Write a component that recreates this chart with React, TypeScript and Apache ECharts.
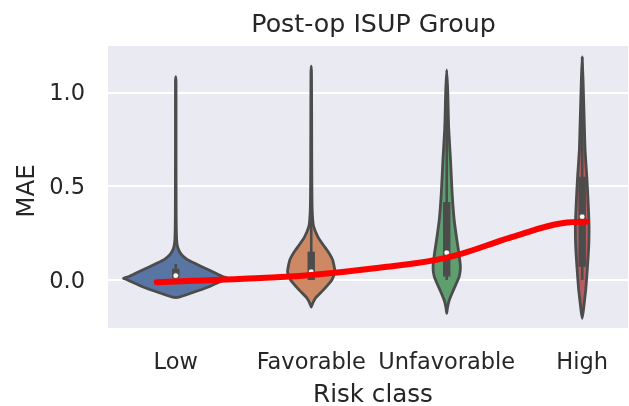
import React, { useEffect, useRef } from 'react';
import * as echarts from 'echarts';

const categories = ['Low', 'Favorable', 'Unfavorable', 'High'];
const categoryPositions = [0, 1, 2, 3];
const violinColors = ['#5975a4', '#cc8963', '#5f9e6e', '#b55d60'];
const yTicks = [0, 0.5, 1.0];

// violin outlines: [value, half-width as fraction of one category band]
const lowProfile = [
  [-0.094, 0.0], [-0.09, 0.03], [-0.071, 0.11], [-0.036, 0.245], [0.0, 0.355], [0.009, 0.385],
  [0.02, 0.34], [0.053, 0.245], [0.089, 0.14], [0.11, 0.083], [0.133, 0.045], [0.155, 0.025],
  [0.178, 0.013], [0.22, 0.006], [0.35, 0.003], [0.7, 0.002], [1.05, 0.002], [1.083, 0.0],
];
const favorableProfile = [
  [-0.145, 0.0], [-0.124, 0.011], [-0.098, 0.03], [-0.053, 0.09], [0.0, 0.152], [0.044, 0.175],
  [0.107, 0.158], [0.15, 0.125], [0.19, 0.085], [0.231, 0.048], [0.284, 0.018], [0.32, 0.011],
  [0.4, 0.006], [0.6, 0.004], [0.9, 0.003], [1.1, 0.002], [1.14, 0.0],
];
const unfavorableProfile = [
  [-0.178, 0.0], [-0.145, 0.006], [-0.107, 0.019], [-0.053, 0.05], [0.018, 0.092], [0.071, 0.101],
  [0.142, 0.09], [0.213, 0.075], [0.32, 0.055], [0.463, 0.04], [0.64, 0.028], [0.817, 0.014],
  [0.995, 0.008], [1.119, 0.0],
];
const highProfile = [
  [-0.204, 0.0], [-0.16, 0.009], [-0.053, 0.026], [0.071, 0.039], [0.195, 0.049], [0.302, 0.05],
  [0.426, 0.043], [0.55, 0.034], [0.693, 0.021], [0.87, 0.014], [1.048, 0.007], [1.19, 0.0],
];
const profiles = [lowProfile, favorableProfile, unfavorableProfile, highProfile];

const q1 = [0.009, 0.0, 0.018, 0.07];
const q3 = [0.06, 0.151, 0.415, 0.55];
const medians = [0.023, 0.044, 0.145, 0.337];
const whiskerLow = [0.0, 0.0, 0.0, 0.0];
const whiskerHigh = [0.085, 0.36, 1.0, 1.19];

const trendX = [-0.14, 0.5, 1, 1.5, 2, 2.5, 2.85, 3.03];
const trendY = [-0.012, 0.006, 0.027, 0.065, 0.119, 0.233, 0.302, 0.31];

const GRAY = '#4c4c4c';
const TEXT = '#262626';
const FONT = 'DejaVu Sans';

export default function App() {
  const ref = useRef<HTMLDivElement>(null);
  useEffect(() => {
    const chart = echarts.init(ref.current!, null, { renderer: 'svg' });
    const option: any = {
      animation: false,
      textStyle: { fontFamily: FONT, color: TEXT },
      title: {
        text: 'Post-op ISUP Group',
        left: 373.5,
        top: 11,
        padding: 0,
        textAlign: 'center',
        textStyle: { fontFamily: FONT, fontSize: 25.3, fontWeight: 'normal', color: TEXT },
      },
      grid: {
        left: 108, top: 46, right: 1, bottom: 78,
        containLabel: false, outerBoundsMode: 'none',
        show: true, backgroundColor: '#eaeaf2', borderWidth: 0,
      },
      xAxis: {
        type: 'value', min: -0.5, max: 3.338,
        axisLine: { show: false }, axisTick: { show: false }, splitLine: { show: false },
        axisLabel: {
          customValues: categoryPositions, margin: 21, fontSize: 22.5, color: TEXT, fontFamily: FONT,
          formatter: (v: number) => categories[Math.round(v)] ?? '',
        },
        name: 'Risk class', nameLocation: 'middle', nameGap: 54,
        nameTextStyle: {
          fontSize: 24.6, lineHeight: 22, color: TEXT, fontFamily: FONT, padding: [0, 0, 0, 10],
        },
      },
      yAxis: {
        type: 'value', min: -0.256, max: 1.247,
        axisLine: { show: false }, axisTick: { show: false }, splitLine: { show: false },
        axisLabel: {
          customValues: yTicks, margin: 23, fontSize: 22.5, color: TEXT, fontFamily: FONT,
          formatter: (v: number) => v.toFixed(1),
        },
        name: 'MAE', nameLocation: 'middle', nameRotate: 90, nameGap: 68,
        nameTextStyle: { fontSize: 24.6, color: TEXT, fontFamily: FONT, padding: [0, 8, 0, 0] },
      },
      series: [
        {
          type: 'custom',
          z: 10,
          silent: true,
          clip: true,
          data: categoryPositions.map((p, i) => [p, medians[i]]),
          encode: { x: 0, y: 1 },
          renderItem: (params: any, api: any) => {
            const i = params.dataIndex;
            const pos = categoryPositions[i];
            const prof = profiles[i];
            const bw = api.size([1, 0])[0];
            const cx = api.coord([pos, 0])[0];
            const right = prof.map(([y, w]) => [cx + w * bw, api.coord([pos, y])[1]]);
            const left = prof
              .slice(1, prof.length - 1)
              .reverse()
              .map(([y, w]) => [cx - w * bw, api.coord([pos, y])[1]]);
            const yq1 = api.coord([pos, q1[i]])[1];
            const yq3 = api.coord([pos, q3[i]])[1];
            return {
              type: 'group',
              children: [
                {
                  type: 'polygon',
                  shape: { points: right.concat(left), smooth: 0.15 },
                  style: { fill: violinColors[i], stroke: GRAY, lineWidth: 2.8, lineJoin: 'round' },
                },
                {
                  type: 'line',
                  shape: {
                    x1: cx, y1: api.coord([pos, whiskerLow[i]])[1],
                    x2: cx, y2: api.coord([pos, whiskerHigh[i]])[1],
                  },
                  style: { stroke: GRAY, lineWidth: 2.6 },
                },
                {
                  type: 'rect',
                  shape: { x: cx - 3.7, y: yq3, width: 7.4, height: yq1 - yq3 },
                  style: { fill: GRAY },
                },
                {
                  type: 'circle',
                  shape: { cx, cy: api.coord([pos, medians[i]])[1], r: 2.8 },
                  style: { fill: '#ffffff', stroke: GRAY, lineWidth: 0.8 },
                },
              ],
            };
          },
        },
        {
          type: 'line',
          z: 20,
          silent: true,
          data: trendX.map((x, k) => [x, trendY[k]]),
          smooth: 0.4,
          showSymbol: false,
          symbol: 'none',
          lineStyle: { color: '#ff0000', width: 6, cap: 'round' },
          markLine: {
            silent: true,
            symbol: ['none', 'none'],
            label: { show: false },
            lineStyle: { color: '#ffffff', width: 2, type: 'solid' },
            emphasis: { disabled: true },
            data: yTicks.map((v) => ({ yAxis: v })),
          },
        },
      ],
    };
    chart.setOption(option);
    return () => chart.dispose();
  }, []);
  return <div ref={ref} style={{ position: 'fixed', left: 0, top: 0, width: 629, height: 406 }} />;
}
